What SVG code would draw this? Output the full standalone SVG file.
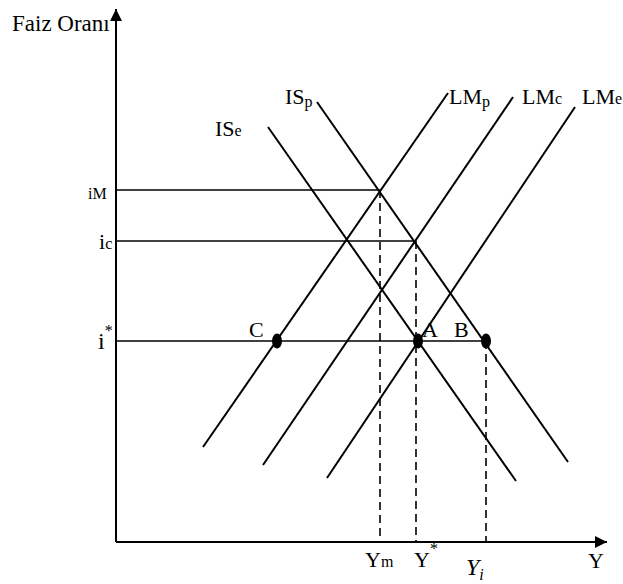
<svg xmlns="http://www.w3.org/2000/svg" width="623" height="584" viewBox="0 0 623 584">
<style>
text{font-family:"Liberation Serif","Times New Roman",serif;fill:#000}
.lbl{font-size:22px}
.sm{font-size:16px}
.ax{stroke:#000;stroke-width:2;fill:none}
.ln{stroke:#000;stroke-width:2;fill:none}
.gd{stroke:#000;stroke-width:1.6;fill:none}
.dash{stroke:#000;stroke-width:1.6;fill:none;stroke-dasharray:8,5}
.dot{fill:#000}
</style>
<defs>
<marker id="arr" viewBox="0 0 10 10" refX="10" refY="5" markerWidth="12" markerHeight="12" markerUnits="userSpaceOnUse" orient="auto">
<path d="M0,0 L10,5 L0,10 Z" fill="#000"/>
</marker>
</defs>
<g id="axes">
<line class="ax" x1="116" y1="542" x2="116" y2="9" marker-end="url(#arr)"/>
<line class="ax" x1="116" y1="542" x2="607" y2="542" marker-end="url(#arr)"/>
<text x="12" y="31" font-size="23">Faiz Oranı</text>
<text class="lbl" x="588" y="568">Y</text>
</g>
<g id="connectors">
<line class="gd" x1="116" y1="190" x2="380" y2="190"/>
<line class="gd" x1="116" y1="241" x2="415" y2="241"/>
<line class="gd" x1="116" y1="341" x2="486" y2="341"/>
<line class="dash" x1="380" y1="190" x2="380" y2="542"/>
<line class="dash" x1="416" y1="241" x2="416" y2="542"/>
<line class="dash" x1="486" y1="341" x2="486" y2="542"/>
</g>
<g id="IS_p"><line class="ln" x1="317" y1="102" x2="568" y2="462"/><text class="lbl" x="285" y="104">IS<tspan class="sm" dy="3">p</tspan></text></g>
<g id="IS_e"><line class="ln" x1="268" y1="127" x2="516" y2="481"/><text class="lbl" x="215" y="136">IS<tspan class="sm">e</tspan></text></g>
<g id="LM_p"><line class="ln" x1="448" y1="93" x2="203" y2="447"/><text class="lbl" x="449" y="104">LM<tspan class="sm" dy="3">p</tspan></text></g>
<g id="LM_c"><line class="ln" x1="513" y1="97" x2="263" y2="465"/><text class="lbl" x="522" y="104">LM<tspan class="sm">c</tspan></text></g>
<g id="LM_e"><line class="ln" x1="575" y1="107" x2="327" y2="478"/><text class="lbl" x="582" y="104">LM<tspan class="sm">e</tspan></text></g>
<g id="iM"><text class="sm" x="88" y="199">iM</text></g>
<g id="ic"><text class="lbl" x="99" y="249">i<tspan class="sm">c</tspan></text></g>
<g id="istar"><text x="98" y="349" font-size="24">i<tspan class="sm" dy="-13">*</tspan></text></g>
<g id="C"><ellipse class="dot" cx="277" cy="341" rx="5" ry="7.5"/><text class="lbl" x="249" y="337">C</text></g>
<g id="A"><ellipse class="dot" cx="418" cy="341" rx="5" ry="7.5"/><text class="lbl" x="422" y="337">A</text></g>
<g id="B"><ellipse class="dot" cx="486" cy="341" rx="5" ry="7.5"/><text class="lbl" x="454" y="337">B</text></g>
<g id="Ym"><text class="lbl" x="365" y="567">Y<tspan class="sm">m</tspan></text></g>
<g id="Ystar"><text class="lbl" x="414" y="567">Y<tspan class="sm" dy="-13">*</tspan></text></g>
<g id="Yi"><text x="466" y="575" font-size="24" font-style="italic">Y<tspan class="sm" dy="5">i</tspan></text></g>
</svg>
